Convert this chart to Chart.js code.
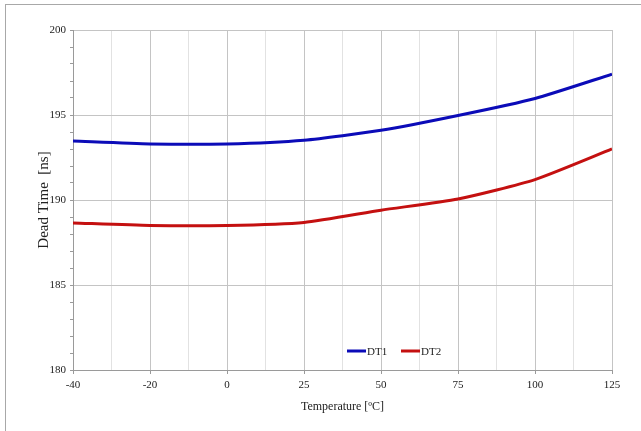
<!DOCTYPE html>
<html>
<head>
<meta charset="utf-8">
<script src="https://cdn.jsdelivr.net/npm/chart.js@4/dist/chart.umd.min.js"></script>
<style>
  html, body { margin: 0; padding: 0; background: #fff; overflow: hidden; }
  #wrap { position: relative; width: 641px; height: 431px; }
  #frame { position: absolute; left: 5px; top: 4px; width: 700px; height: 500px;
           border-left: 1px solid #a8a8a8; border-top: 1px solid #a8a8a8; }
  canvas { position: absolute; left: 0; top: 0; }
</style>
</head>
<body>
<div id="wrap">
  <div id="frame"></div>
  <canvas id="chart" width="641" height="431"></canvas>
</div>
<script>
// data
const temps = ['-40', '-20', '0', '25', '50', '75', '100', '125'];
const dt1 = [193.47, 193.3, 193.3, 193.52, 194.1, 194.97, 195.97, 197.4];
const dt2 = [188.65, 188.5, 188.5, 188.68, 189.4, 190.06, 191.2, 193.0];
const seriesNames = ['DT1', 'DT2'];
const seriesColors = ['#0b0bb8', '#c41010'];

const serif = "'Liberation Serif', 'DejaVu Serif', serif";

// categories are equally spaced, so plot against index; half steps give the minor grid
const toPoints = arr => arr.map((v, i) => ({ x: i, y: v }));

// legend drawn inside the plot, near the bottom
const innerLegend = {
    id: 'innerLegend',
    afterDraw(chart) {
        const ctx = chart.ctx;
        const y = 351;
        const starts = [347, 401];
        ctx.save();
        ctx.font = '11px ' + serif;
        ctx.textBaseline = 'middle';
        chart.data.datasets.forEach((ds, i) => {
            const x = starts[i];
            ctx.strokeStyle = ds.borderColor;
            ctx.lineWidth = 3;
            ctx.beginPath();
            ctx.moveTo(x, y);
            ctx.lineTo(x + 19, y);
            ctx.stroke();
            ctx.fillStyle = '#222';
            ctx.fillText(ds.label, x + 20, y + 1);
        });
        ctx.restore();
    }
};

new Chart(document.getElementById('chart'), {
    type: 'line',
    data: {
        datasets: [
            { label: seriesNames[0], data: toPoints(dt1), borderColor: seriesColors[0] },
            { label: seriesNames[1], data: toPoints(dt2), borderColor: seriesColors[1] }
        ]
    },
    options: {
        responsive: false,
        animation: false,
        layout: { padding: { top: 30, right: 29, left: 0, bottom: 0 } },
        elements: {
            line: { borderWidth: 3, tension: 0.2, fill: false },
            point: { radius: 0 }
        },
        plugins: {
            legend: { display: false },
            tooltip: { enabled: false }
        },
        scales: {
            x: {
                type: 'linear',
                min: 0,
                max: temps.length - 1,
                afterBuildTicks: scale => {
                    const t = [];
                    for (let v = 0; v <= temps.length - 1; v += 0.5) t.push({ value: v });
                    scale.ticks = t;
                },
                afterFit: scale => { scale.height = 61; },
                border: { color: '#9a9a9a', width: 1 },
                grid: {
                    color: c => (c.tick && Number.isInteger(c.tick.value)) ? '#c4c4c4' : '#e2e2e2',
                    tickColor: c => (c.tick && Number.isInteger(c.tick.value)) ? '#9a9a9a' : 'rgba(0,0,0,0)',
                    tickLength: 4
                },
                ticks: {
                    autoSkip: false,
                    maxRotation: 0,
                    padding: 5,
                    color: '#222',
                    font: { family: serif, size: 11 },
                    callback: v => Number.isInteger(v) ? temps[v] : ''
                },
                title: {
                    display: true,
                    text: 'Temperature [ºC]',
                    color: '#222',
                    font: { family: serif, size: 12 },
                    padding: { top: 4, bottom: 17 }
                }
            },
            y: {
                min: 180,
                max: 200,
                afterFit: scale => { scale.width = 73; },
                border: { color: '#9a9a9a', width: 1 },
                grid: {
                    color: c => (c.tick && c.tick.value % 5 === 0) ? '#c4c4c4' : 'rgba(0,0,0,0)',
                    tickColor: '#9a9a9a',
                    tickLength: 3
                },
                ticks: {
                    stepSize: 1,
                    autoSkip: false,
                    padding: 4,
                    color: '#222',
                    font: { family: serif, size: 11 },
                    callback: v => v % 5 === 0 ? v : ''
                },
                title: {
                    display: true,
                    text: 'Dead Time  [ns]',
                    color: '#222',
                    font: { family: serif, size: 15 },
                    padding: { top: 35, bottom: 0 }
                }
            }
        }
    },
    plugins: [innerLegend]
});
</script>
</body>
</html>
